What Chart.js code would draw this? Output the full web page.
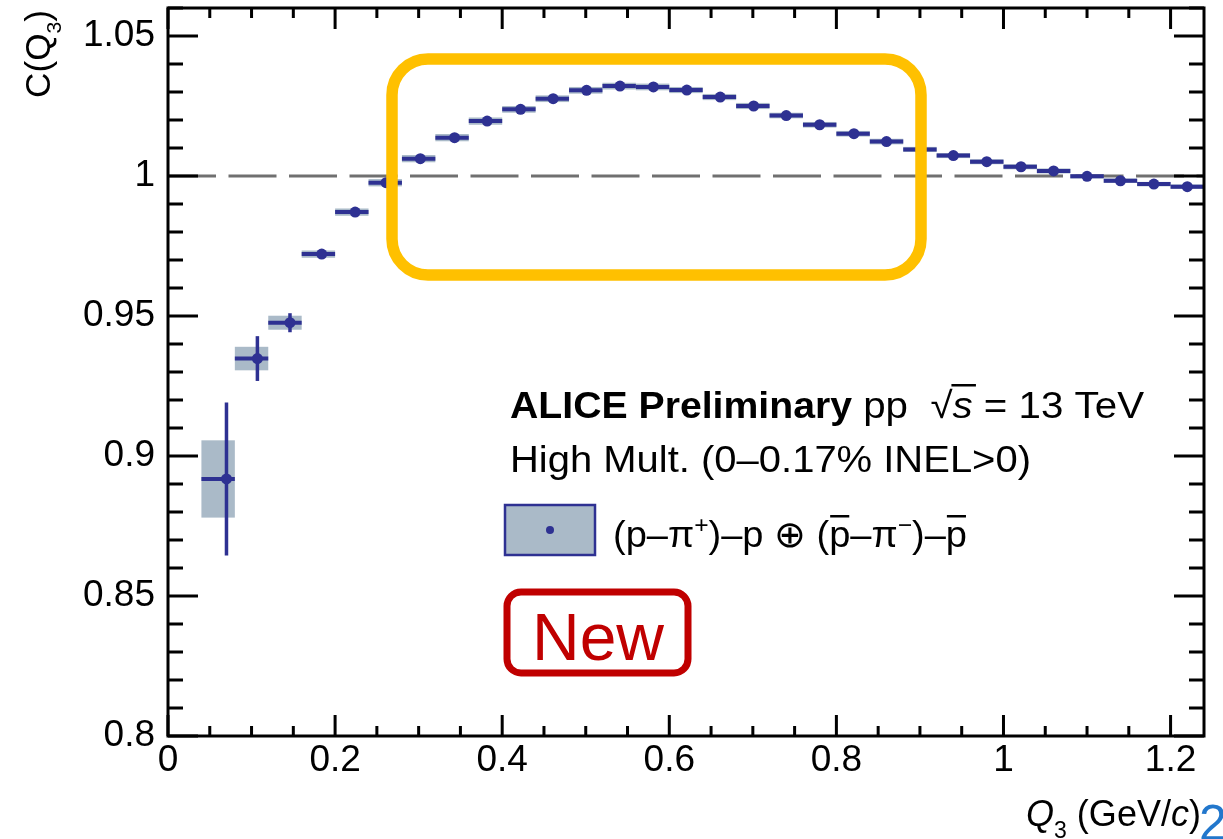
<!DOCTYPE html>
<html><head><meta charset="utf-8">
<script src="https://cdn.jsdelivr.net/npm/chart.js@4.4.1/dist/chart.umd.min.js"></script>
<style>html,body{margin:0;padding:0;background:#fff}#wrap{width:1223px;height:839px;position:relative}</style>
</head><body><div id="wrap"><canvas id="c"></canvas></div>
<script>
// ---- data ----
const qMean   = [0.070,0.107,0.146,0.184,0.224,0.261,0.302,0.343,0.382,0.422,0.461,0.501,0.541,0.581,0.621,0.661,0.701,0.740,0.780,0.821,0.860,0.901,0.940,0.980,1.021,1.060,1.100,1.140,1.180,1.220];
const binLow  = [0.04,0.08,0.12,0.16,0.20,0.24,0.28,0.32,0.36,0.40,0.44,0.48,0.52,0.56,0.60,0.64,0.68,0.72,0.76,0.80,0.84,0.88,0.92,0.96,1.00,1.04,1.08,1.12,1.16,1.20];
const binHigh = [0.08,0.12,0.16,0.20,0.24,0.28,0.32,0.36,0.40,0.44,0.48,0.52,0.56,0.60,0.64,0.68,0.72,0.76,0.80,0.84,0.88,0.92,0.96,1.00,1.04,1.08,1.12,1.16,1.20,1.24];
const cQ3     = [0.8918,0.9348,0.9476,0.9721,0.9871,0.9976,1.0062,1.0137,1.0196,1.0238,1.0276,1.0306,1.0321,1.0318,1.0307,1.0282,1.0250,1.0216,1.0183,1.0151,1.0123,1.0095,1.0073,1.0051,1.0033,1.0018,0.9999,0.9983,0.9971,0.9962];
const statErr = [0.0273,0.0080,0.0034,0.0009,0.0007,0.0006,0.0005,0.0005,0.0004,0.0004,0.0004,0.0004,0.0004,0.0004,0.0004,0.0004,0.0004,0.0004,0.0004,0.0004,0.0004,0.0004,0.0004,0.0004,0.0004,0.0004,0.0004,0.0004,0.0004,0.0004];
const systErr = [0.0138,0.0042,0.0025,0.0013,0.0013,0.0013,0.0013,0.0013,0.0013,0.0012,0.0012,0.0012,0.0012,0.0012,0.0011,0.0011,0.0011,0.0010,0.0010,0.0010,0.0010,0.0009,0.0009,0.0009,0.0009,0.0009,0.0008,0.0008,0.0008,0.0008];
const xTickValues = [0,0.2,0.4,0.6,0.8,1,1.2];
const xTickLabels = ['0','0.2','0.4','0.6','0.8','1','1.2'];
const yTickValues = [0.8,0.85,0.9,0.95,1,1.05];
const yTickLabels = ['0.8','0.85','0.9','0.95','1','1.05'];
const referenceLevel = 1;

// ---- styles ----
const FONT = '"Liberation Sans", Arial, Helvetica, sans-serif';
const BLUE = '#2e3192';
const BOXC = '#aabac8';

function f(size, style){ return (style ? style + ' ' : '') + size + 'px ' + FONT; }

function drawRich(ctx, segs, x, y, target){
  let total = 0;
  segs.forEach(s => { ctx.font = s.font; s.w = ctx.measureText(s.t).width; total += s.w; });
  const sx = target ? target / total : 1;
  ctx.save();
  ctx.translate(x, y);
  ctx.scale(sx, 1);
  ctx.textAlign = 'left';
  ctx.textBaseline = 'alphabetic';
  let cx = 0;
  segs.forEach(s => {
    ctx.font = s.font;
    ctx.fillStyle = s.color || '#000';
    ctx.fillText(s.t, cx, s.dy || 0);
    if (s.over) {
      ctx.fillRect(cx + (s.o0 || 0), s.oy, s.w - (s.o0 || 0) - (s.o1 || 0), 2.5);
    }
    cx += s.w;
  });
  ctx.restore();
}

function roundRect(ctx, x0, y0, x1, y1, r){
  ctx.beginPath();
  ctx.moveTo(x0 + r, y0);
  ctx.lineTo(x1 - r, y0);
  ctx.arcTo(x1, y0, x1, y0 + r, r);
  ctx.lineTo(x1, y1 - r);
  ctx.arcTo(x1, y1, x1 - r, y1, r);
  ctx.lineTo(x0 + r, y1);
  ctx.arcTo(x0, y1, x0, y1 - r, r);
  ctx.lineTo(x0, y0 + r);
  ctx.arcTo(x0, y0, x0 + r, y0, r);
  ctx.closePath();
}

const dataPlugin = {
  id: 'dataPlugin',
  beforeDatasetsDraw(chart){
    const {ctx, chartArea: a, scales: {x, y}} = chart;
    ctx.save();
    ctx.beginPath(); ctx.rect(a.left, a.top, a.right - a.left, a.bottom - a.top); ctx.clip();
    ctx.fillStyle = BOXC;
    for (let i = 0; i < cQ3.length; i++) {
      const x0 = x.getPixelForValue(binLow[i]), x1 = x.getPixelForValue(binHigh[i]);
      const y0 = y.getPixelForValue(cQ3[i] + systErr[i]), y1 = y.getPixelForValue(cQ3[i] - systErr[i]);
      ctx.fillRect(x0, y0, x1 - x0, y1 - y0);
    }
    ctx.strokeStyle = '#707070'; ctx.lineWidth = 3; ctx.setLineDash([48, 12.5]);
    const yr = y.getPixelForValue(referenceLevel);
    ctx.beginPath(); ctx.moveTo(a.left, yr); ctx.lineTo(a.right, yr); ctx.stroke();
    ctx.setLineDash([]);
    ctx.strokeStyle = BLUE;
    for (let i = 0; i < cQ3.length; i++) {
      const yc = y.getPixelForValue(cQ3[i]);
      ctx.lineWidth = 4;
      ctx.beginPath(); ctx.moveTo(x.getPixelForValue(binLow[i]), yc); ctx.lineTo(x.getPixelForValue(binHigh[i]), yc); ctx.stroke();
      const xc = x.getPixelForValue(qMean[i]);
      ctx.lineWidth = 3.5;
      ctx.beginPath(); ctx.moveTo(xc, y.getPixelForValue(cQ3[i] - statErr[i])); ctx.lineTo(xc, y.getPixelForValue(cQ3[i] + statErr[i])); ctx.stroke();
    }
    ctx.restore();
  },
  afterDraw(chart){
    const {ctx, chartArea: a, scales: {x, y}} = chart;
    ctx.save();
    ctx.strokeStyle = '#000'; ctx.lineWidth = 3; ctx.lineCap = 'butt';
    ctx.beginPath();
    for (let k = 80; k <= 106; k++) {
      const v = k / 100;
      const major = yTickValues.some(t => Math.abs(t - v) < 1e-6);
      const len = major ? 30 : 15;
      const py = y.getPixelForValue(v);
      ctx.moveTo(a.left, py); ctx.lineTo(a.left + len, py);
      ctx.moveTo(a.right, py); ctx.lineTo(a.right - len, py);
    }
    for (let k = 0; k <= 24; k++) {
      const v = k * 0.05;
      const major = xTickValues.some(t => Math.abs(t - v) < 1e-6);
      const len = major ? 21 : 10;
      const px = x.getPixelForValue(v);
      ctx.moveTo(px, a.bottom); ctx.lineTo(px, a.bottom - len);
      ctx.moveTo(px, a.top); ctx.lineTo(px, a.top + len);
    }
    ctx.stroke();
    ctx.strokeRect(a.left, a.top, a.right - a.left, a.bottom - a.top);

    // yellow highlight box
    ctx.strokeStyle = '#ffc000'; ctx.lineWidth = 11.5;
    roundRect(ctx, 392, 59, 921, 275, 36); ctx.stroke();

    // red "New" box
    ctx.strokeStyle = '#c00000'; ctx.lineWidth = 7;
    roundRect(ctx, 507, 592, 688, 673, 14); ctx.stroke();
    ctx.fillStyle = '#c00000'; ctx.font = f(66); ctx.textAlign = 'center'; ctx.textBaseline = 'alphabetic';
    ctx.fillText('New', 598, 660);

    // axis titles
    ctx.save();
    ctx.translate(50, 98); ctx.rotate(-Math.PI / 2);
    drawRich(ctx, [
      {t: 'C(Q', font: f(35)},
      {t: '3', font: f(21), dy: 11},
      {t: ')', font: f(35)}
    ], 0, 0, 88);
    ctx.restore();

    drawRich(ctx, [
      {t: 'Q', font: f(36, 'italic')},
      {t: '3', font: f(23), dy: 12},
      {t: ' (GeV/', font: f(36)},
      {t: 'c', font: f(36, 'italic')},
      {t: ')', font: f(36)}
    ], 1026, 826, 175);

    ctx.fillStyle = '#2277cc'; ctx.font = f(50); ctx.textAlign = 'left';
    ctx.fillText('2', 1199, 840);

    // annotation lines
    drawRich(ctx, [
      {t: 'ALICE Preliminary', font: f(36, 'bold')},
      {t: ' pp  ', font: f(37)},
      {t: '\u221A', font: f(37)},
      {t: 's', font: f(37, 'italic'), over: true, oy: -34, o0: -1, o1: -3},
      {t: ' = 13 TeV', font: f(37)}
    ], 510, 418, 634);

    drawRich(ctx, [
      {t: 'High Mult. (0\u20130.17% INEL>0)', font: f(37)}
    ], 510, 472, 521);

    // legend box
    ctx.fillStyle = BOXC; ctx.fillRect(504, 504, 92, 52);
    ctx.strokeStyle = BLUE; ctx.lineWidth = 2.5; ctx.strokeRect(505, 505, 90, 50);
    ctx.fillStyle = BLUE; ctx.beginPath(); ctx.arc(550, 530, 4, 0, Math.PI * 2); ctx.fill();

    drawRich(ctx, [
      {t: '(p\u2013\u03C0', font: f(37)},
      {t: '+', font: f(24), dy: -14},
      {t: ')\u2013p \u2295 (', font: f(37)},
      {t: 'p', font: f(37), over: true, oy: -32, o0: 1, o1: 1},
      {t: '\u2013\u03C0', font: f(37)},
      {t: '\u2212', font: f(24), dy: -14},
      {t: ')\u2013', font: f(37)},
      {t: 'p', font: f(37), over: true, oy: -32, o0: 1, o1: 1}
    ], 613, 547, 354);

    ctx.restore();
  }
};

const points = qMean.map((q, i) => ({x: q, y: cQ3[i]}));

new Chart(document.getElementById('c'), {
  type: 'scatter',
  data: {
    datasets: [{
      label: '(p\u2013\u03C0+)\u2013p \u2295 (p\u0305\u2013\u03C0\u2212)\u2013p\u0305',
      data: points,
      pointRadius: 5.5,
      pointHoverRadius: 5.5,
      pointBackgroundColor: BLUE,
      pointBorderWidth: 0,
      borderColor: BLUE,
      showLine: false
    }]
  },
  options: {
    responsive: true,
    maintainAspectRatio: false,
    animation: false,
    events: [],
    layout: {padding: {left: 0, top: 8, right: 19, bottom: 0}},
    plugins: {legend: {display: false}, tooltip: {enabled: false}, title: {display: false}},
    scales: {
      x: {
        type: 'linear', min: 0, max: 1.24,
        grid: {display: false, drawTicks: false},
        border: {display: false},
        afterBuildTicks: s => { s.ticks = xTickValues.map(v => ({value: v})); },
        afterFit: s => { s.height = 103; s.paddingLeft = 0; s.paddingRight = 0; },
        ticks: {
          font: {family: FONT, size: 37}, color: '#000', padding: 3, maxRotation: 0, autoSkip: false,
          callback: (v) => { const i = xTickValues.findIndex(t => Math.abs(t - v) < 1e-6); return i >= 0 ? xTickLabels[i] : ''; }
        }
      },
      y: {
        type: 'linear', min: 0.8, max: 1.06,
        grid: {display: false, drawTicks: false},
        border: {display: false},
        afterBuildTicks: s => { s.ticks = yTickValues.map(v => ({value: v})); },
        afterFit: s => { s.width = 168; s.paddingTop = 0; s.paddingBottom = 0; },
        ticks: {
          font: {family: FONT, size: 37}, color: '#000', padding: 13, autoSkip: false,
          callback: (v) => { const i = yTickValues.findIndex(t => Math.abs(t - v) < 1e-6); return i >= 0 ? yTickLabels[i] : ''; }
        }
      }
    }
  },
  plugins: [dataPlugin]
});
</script>
</body></html>
